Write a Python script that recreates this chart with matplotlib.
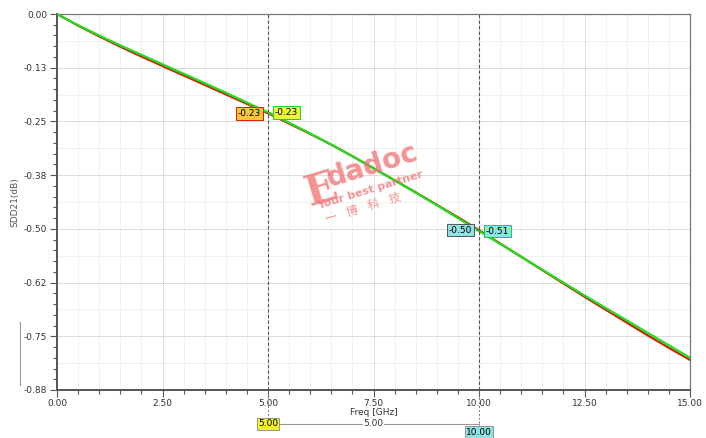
import numpy as np
import matplotlib
matplotlib.use("Agg")
from matplotlib import pyplot as plt
from matplotlib.ticker import MultipleLocator, FixedLocator
import matplotlib.transforms as mtransforms

# frequency points (GHz)
freq = [0.0, 0.5, 1.0, 1.5, 2.0, 2.5, 3.0, 3.5, 4.0, 4.5, 5.0,
        5.5, 6.0, 6.5, 7.0, 7.5, 8.0, 8.5, 9.0, 9.5, 10.0,
        10.5, 11.0, 11.5, 12.0, 12.5, 13.0, 13.5, 14.0, 14.5, 15.0]

# SDD21 green trace (dB)
sdd21_green = [0.0, -0.026, -0.050, -0.073, -0.095, -0.117, -0.139, -0.161, -0.183, -0.206, -0.229,
               -0.253, -0.278, -0.304, -0.331, -0.359, -0.387, -0.416, -0.445, -0.475, -0.505,
               -0.535, -0.565, -0.595, -0.625, -0.655, -0.684, -0.713, -0.742, -0.771, -0.800]

# SDD21 red trace (dB)
sdd21_red = [0.0, -0.027, -0.052, -0.076, -0.099, -0.121, -0.143, -0.165, -0.187, -0.209, -0.231,
             -0.255, -0.279, -0.304, -0.331, -0.359, -0.387, -0.415, -0.444, -0.473, -0.503,
             -0.534, -0.565, -0.596, -0.627, -0.658, -0.688, -0.718, -0.748, -0.777, -0.805]

y_ticks = [0.0, -0.125, -0.25, -0.375, -0.5, -0.625, -0.75, -0.875]
y_labels = ["0.00", "-0.13", "-0.25", "-0.38", "-0.50", "-0.62", "-0.75", "-0.88"]
x_ticks = [0.0, 2.5, 5.0, 7.5, 10.0, 12.5, 15.0]
x_labels = ["0.00", "2.50", "5.00", "7.50", "10.00", "12.50", "15.00"]

# markers
m1_freq = 5.0
m2_freq = 10.0
m1_labels = ["-0.23", "-0.23"]
m2_labels = ["-0.50", "-0.51"]

fig = plt.figure(figsize=(7.06, 4.38), dpi=100)
ax = fig.add_axes([57 / 706, 48 / 438, 633 / 706, 376 / 438])

ax.plot(freq, sdd21_red, color="#cc2200", lw=1.6, zorder=3)
ax.plot(freq, sdd21_green, color="#22dd22", lw=1.6, zorder=4)

ax.set_xlim(0, 15)
ax.set_ylim(-0.875, 0)
ax.xaxis.set_major_locator(FixedLocator(x_ticks))
ax.set_xticklabels(x_labels)
ax.yaxis.set_major_locator(FixedLocator(y_ticks))
ax.set_yticklabels(y_labels)
ax.xaxis.set_minor_locator(MultipleLocator(0.5))
ax.yaxis.set_minor_locator(MultipleLocator(0.025))

# grid: vertical every 0.5 GHz, horizontal every half major step
ax.grid(which="major", color="#d8d8d8", lw=0.6)
ax.grid(which="minor", axis="x", color="#ebebeb", lw=0.5)
for gy in np.arange(-0.875, 0.0, 0.0625):
    ax.axhline(gy, color="#ebebeb", lw=0.5, zorder=0)
ax.set_axisbelow(True)

ax.tick_params(which="both", direction="out", colors="#555555", labelsize=6.5,
               labelcolor="#333333", width=0.8, pad=2)
ax.tick_params(axis="x", which="both", pad=1.5)
ax.tick_params(which="major", length=5)
ax.tick_params(which="minor", length=3)
for sp in ax.spines.values():
    sp.set_color("#777777")
    sp.set_linewidth(0.9)
ax.spines["left"].set_linewidth(1.4)
ax.spines["bottom"].set_linewidth(1.4)
ax.spines["left"].set_color("#555555")
ax.spines["bottom"].set_color("#555555")

ax.set_xlabel("Freq [GHz]", fontsize=6.5, color="#333333", labelpad=0)
ax.set_ylabel("SDD21(dB)", fontsize=6.5, color="#555555", labelpad=3)

# marker lines
for mf in (m1_freq, m2_freq):
    ax.axvline(mf, color="#555555", lw=0.8, ls=(0, (3, 2)), zorder=5)

y1r = np.interp(m1_freq, freq, sdd21_red)
y1g = np.interp(m1_freq, freq, sdd21_green)
y2r = np.interp(m2_freq, freq, sdd21_red)
y2g = np.interp(m2_freq, freq, sdd21_green)

def marker_label(txt, x, y, side, fc, ec):
    off = -5 if side == "left" else 5
    ax.annotate(txt, (x, y), xytext=(off, 0), textcoords="offset points",
                ha="right" if side == "left" else "left", va="center", fontsize=6.5,
                bbox=dict(boxstyle="square,pad=0.2", fc=fc, ec=ec, lw=0.7), zorder=6,
                arrowprops=dict(arrowstyle="-", color=ec, lw=0.7))

marker_label(m1_labels[0], m1_freq, y1r, "left", "#f7c63a", "#dd2200")
marker_label(m1_labels[1], m1_freq, y1g, "right", "#eef53a", "#22cc22")
marker_label(m2_labels[0], m2_freq, y2r, "left", "#8fe3e3", "#555555")
marker_label(m2_labels[1], m2_freq, y2g, "right", "#8fe3e3", "#22cc22")

# delta bar below the x axis
trans = mtransforms.blended_transform_factory(ax.transData, ax.transAxes)
bar_y = -0.09
for mf in (m1_freq, m2_freq):
    ax.plot([mf, mf], [0, -0.1], transform=trans, color="#777777", lw=0.7,
            ls=(0, (2, 2)), clip_on=False)
ax.plot([m1_freq, m2_freq], [bar_y, bar_y], transform=trans, color="#999999", lw=0.8,
        clip_on=False)
ax.text(m1_freq, bar_y, "5.00", transform=trans, ha="center", va="center", fontsize=6.5,
        bbox=dict(boxstyle="square,pad=0.15", fc="#f2f22a", ec="#888888", lw=0.6))
ax.text((m1_freq + m2_freq) / 2, bar_y, "%.2f" % (m2_freq - m1_freq), transform=trans,
        ha="center", va="center", fontsize=6.5, color="#333333",
        bbox=dict(boxstyle="square,pad=0.1", fc="white", ec="none"))
ax.text(m2_freq, -0.112, "10.00", transform=trans, ha="center", va="center", fontsize=6.5,
        bbox=dict(boxstyle="square,pad=0.15", fc="#8fe3e3", ec="#888888", lw=0.6))

# watermark
wm = dict(color="#f07070", alpha=0.75, ha="center", va="center", rotation=17)
fig.text(322 / 706, 1 - 190 / 438, "E", fontsize=30, family="DejaVu Serif", weight="bold", **wm)
fig.text(372 / 706, 1 - 166 / 438, "dadoc", fontsize=20, family="DejaVu Sans", weight="bold", **wm)
fig.text(370 / 706, 1 - 190 / 438, "Your best partner", fontsize=8, weight="bold", **wm)
fig.text(363 / 706, 1 - 208 / 438, "一    博    科    技", fontsize=8.5,
         family=["Noto Sans CJK SC", "DejaVu Sans"], **wm)

# small stray line at left
fig.add_artist(plt.Line2D([20 / 706, 20 / 706], [1 - 385 / 438, 1 - 322 / 438],
                          color="#999999", lw=0.8))

fig.savefig("out.png", dpi=100)
